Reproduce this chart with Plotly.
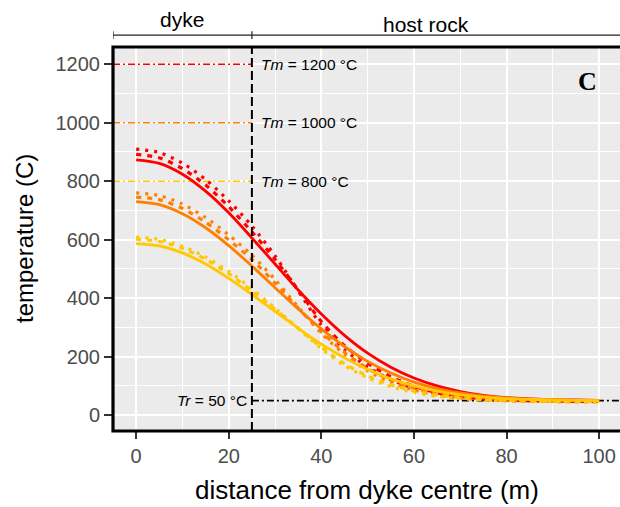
import plotly.graph_objects as go

# distance from dyke centre (m)
distance = [0, 5, 10, 15, 20, 25, 30, 35, 40, 45, 50, 55, 60, 65, 70, 75, 80, 85, 90, 95, 100]

# Tm = 1200 °C (red)
red_solid = [873, 861, 824, 766, 692, 606, 517, 428, 346, 273, 212, 164, 127, 100, 81, 68, 60, 56, 53, 52, 51]
red_dashed = [892, 880, 843, 787, 713, 627, 533, 428, 320, 238, 178, 132, 99, 77, 64, 56, 52, 49, 48, 47, 47]
red_dotted = [910, 898, 862, 806, 733, 647, 545, 425, 308, 225, 165, 122, 92, 72, 60, 53, 50, 48, 47, 46, 46]

# Tm = 1000 °C (orange)
orange_solid = [730, 720, 689, 641, 580, 510, 436, 363, 295, 235, 184, 144, 113, 91, 76, 65, 59, 55, 53, 51, 51]
orange_dashed = [746, 737, 707, 660, 600, 532, 452, 366, 285, 215, 160, 120, 92, 73, 62, 55, 51, 49, 48, 47, 47]
orange_dotted = [760, 751, 722, 676, 616, 547, 464, 370, 280, 208, 152, 113, 86, 69, 59, 53, 50, 48, 47, 46, 46]

# Tm = 800 °C (yellow)
yellow_solid = [587, 579, 555, 517, 468, 413, 355, 297, 243, 196, 156, 124, 100, 82, 70, 62, 57, 54, 52, 51, 50]
yellow_dashed = [602, 594, 571, 533, 484, 425, 362, 297, 232, 176, 134, 104, 83, 69, 60, 54, 51, 49, 48, 47, 47]
yellow_dotted = [609, 601, 578, 541, 492, 432, 366, 297, 228, 170, 128, 98, 78, 65, 57, 52, 49, 48, 47, 46, 46]

melt_temps = [1200, 1000, 800]
rock_temp = 50
dyke_half_width = 25
x_ticks = [0, 20, 40, 60, 80, 100]
y_ticks = [0, 200, 400, 600, 800, 1000, 1200]

RED, ORANGE, YELLOW = "#FF0000", "#FF7F00", "#FFC800"
FONT = "Liberation Sans, Arial, Helvetica, sans-serif"

fig = go.Figure()

# melt temperature reference lines (inside dyke)
for tm, col in zip(melt_temps, [RED, ORANGE, YELLOW]):
    fig.add_trace(go.Scatter(x=[-5, dyke_half_width], y=[tm, tm], mode="lines",
                             line=dict(color=col, width=1.7, dash="7px,3px,2px,3px"),
                             hoverinfo="skip", showlegend=False))
# host rock temperature line
fig.add_trace(go.Scatter(x=[dyke_half_width, 110], y=[rock_temp, rock_temp], mode="lines",
                         line=dict(color="black", width=1.7, dash="7px,3px,2px,3px"),
                         hoverinfo="skip", showlegend=False))

series = [
    (red_solid, RED, "solid"), (red_dashed, RED, "5px,6px"), (red_dotted, RED, "3px,6px"),
    (orange_solid, ORANGE, "solid"), (orange_dashed, ORANGE, "5px,6px"), (orange_dotted, ORANGE, "3px,6px"),
    (yellow_solid, YELLOW, "solid"), (yellow_dashed, YELLOW, "5px,6px"), (yellow_dotted, YELLOW, "3px,6px"),
]
for ys, col, dash in series:
    fig.add_trace(go.Scatter(x=distance, y=ys, mode="lines",
                             line=dict(color=col, width=2.8 if dash == "solid" else 3.2,
                                       dash=dash, shape="spline", smoothing=0.8),
                             hoverinfo="skip", showlegend=False))

shapes = [
    # dyke margin
    dict(type="line", xref="x", yref="paper", x0=dyke_half_width, x1=dyke_half_width, y0=0, y1=1,
         line=dict(color="black", width=2, dash="9px,4px"), layer="above"),
    # panel border (right side runs off the canvas)
    dict(type="rect", xref="paper", yref="paper", x0=0, x1=1.02, y0=0, y1=1,
         line=dict(color="black", width=3.2), layer="above"),
    # top bracket
    dict(type="line", xref="x", yref="paper", x0=-5, x1=110, y0=1.031, y1=1.031,
         line=dict(color="#222222", width=1.2)),
    dict(type="line", xref="x", yref="paper", x0=-5, x1=-5, y0=1.021, y1=1.041,
         line=dict(color="#222222", width=1.2)),
    dict(type="line", xref="x", yref="paper", x0=dyke_half_width, x1=dyke_half_width, y0=1.021, y1=1.041,
         line=dict(color="#222222", width=1.2)),
]

annotations = []
for tm in melt_temps:
    annotations.append(dict(x=26.5, y=tm, xref="x", yref="y", xanchor="left", yanchor="middle",
                            text=f"<i>Tm</i> = {tm} °C", showarrow=False,
                            font=dict(family=FONT, size=15.5, color="black")))
annotations.append(dict(x=24.3, y=rock_temp, xref="x", yref="y", xanchor="right", yanchor="middle",
                        text=f"<i>Tr</i> = {rock_temp} °C", showarrow=False,
                        font=dict(family=FONT, size=15.5, color="black")))
annotations += [
    dict(x=10, y=1.072, xref="x", yref="paper", xanchor="center", yanchor="middle", text="dyke",
         showarrow=False, font=dict(family=FONT, size=21, color="black")),
    dict(x=62.5, y=1.058, xref="x", yref="paper", xanchor="center", yanchor="middle", text="host rock",
         showarrow=False, font=dict(family=FONT, size=21, color="black")),
    dict(x=97.4, y=1140, xref="x", yref="y", xanchor="center", yanchor="middle", text="<b>C</b>",
         showarrow=False, font=dict(family="Liberation Serif, DejaVu Serif, serif", size=26, color="black")),
    dict(x=-0.1755, y=0.5, xref="paper", yref="paper", xanchor="center", yanchor="middle",
         text="temperature (C)", textangle=-90,
         showarrow=False, font=dict(family=FONT, size=24, color="black")),
    dict(x=0.5, y=-0.154, xref="paper", yref="paper", xanchor="center", yanchor="middle",
         text="distance from dyke centre (m)",
         showarrow=False, font=dict(family=FONT, size=26, color="black")),
]

fig.update_layout(
    width=620, height=507,
    margin=dict(l=113, r=0, t=47, b=76),
    paper_bgcolor="white", plot_bgcolor="#EBEBEB",
    shapes=shapes, annotations=annotations,
    font=dict(family=FONT),
)
fig.update_xaxes(range=[-5, 104.5], tickvals=x_ticks, ticktext=[str(v) for v in x_ticks],
                 showgrid=True, gridcolor="white", gridwidth=2, zeroline=False,
                 minor=dict(dtick=10, tick0=0, showgrid=True, gridcolor="white", gridwidth=1.2),
                 ticks="outside", ticklen=7, tickwidth=2, tickcolor="#333333",
                 tickfont=dict(family=FONT, size=20, color="#4D4D4D"), showline=False)
fig.update_yaxes(range=[-54, 1259], tickvals=y_ticks, ticktext=[str(v) for v in y_ticks],
                 showgrid=True, gridcolor="white", gridwidth=2, zeroline=False,
                 minor=dict(dtick=100, tick0=0, showgrid=True, gridcolor="white", gridwidth=1.2),
                 ticks="outside", ticklen=8, tickwidth=2, tickcolor="#333333",
                 tickfont=dict(family=FONT, size=20, color="#4D4D4D"), showline=False)

fig.write_html("out.html")
